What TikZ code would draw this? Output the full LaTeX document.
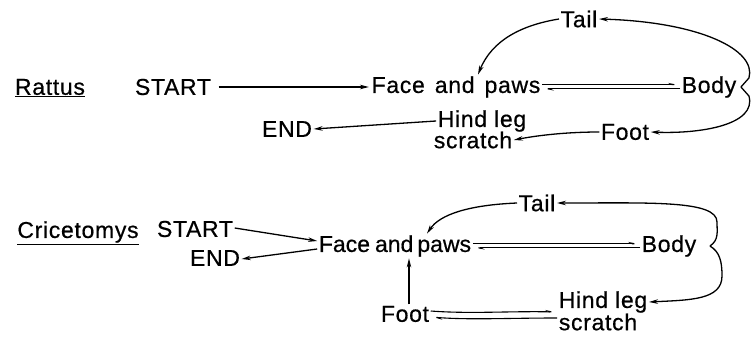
\documentclass[tikz,border=0pt]{standalone}
\usepackage{fontspec}
\setmainfont{Liberation Sans}[LetterSpace=3,FakeBold=0.6]
\newfontfamily\tightfont{Liberation Sans}[FakeBold=0.6]
\usetikzlibrary{arrows.meta,calc}

\begin{document}
\begin{tikzpicture}[x=1pt,y=-1pt,
  lbl/.style={inner sep=1.5pt, font=\fontsize{23}{25}\selectfont},
  conn/.style={line width=1.3pt, -{Stealth[length=9pt,width=4.5pt]}},
  half/.style={line width=1.1pt, -{Stealth[harpoon,length=9pt,width=3.5pt]}},
]
\useasboundingbox (0,0) rectangle (755,342);

% ---------------- Rattus ----------------
\node[lbl] (rat) at (50,88) {\underline{Rattus}};
\node[lbl] (s1)  at (173,87) {START};
\node[lbl] (f1)  at (456,87) {Face\hspace{10pt}and\hspace{10pt}paws};
\node[lbl] (b1)  at (709,87) {Body};
\node[lbl] (t1)  at (579,19) {Tail};
\node[lbl] (e1)  at (287,129) {END};
\node[lbl] (hl1) at (482,121) {Hind leg};
\node[lbl] (sc1) at (473,140) {scratch};
\node[lbl] (fo1) at (625,132) {Foot};
\coordinate (tip1) at ([xshift=3pt]b1.east);

\draw[conn] ([xshift=6pt]s1.east) -- ([xshift=-1pt]f1.west);
\draw[half] ([yshift=2.3pt]f1.east) -- ([yshift=2.3pt]b1.west);
\draw[half] ([yshift=-1.8pt]b1.west) -- ([yshift=-1.8pt]f1.east);
\draw[conn] (t1.west) .. controls (522,25) and (492,40) .. ([xshift=22pt]f1.north);
\draw[conn] (tip1) -- ++(8,-9) .. controls (757,50) and (700,22) .. (t1.east);
\draw[conn] (tip1) -- ++(8,9) .. controls (757,125) and (700,134) .. (fo1.east);
\draw[conn] (fo1.west) .. controls (575,132) and (545,134) .. (sc1.east);
\draw[conn] (hl1.west) -- (e1.east);

% ---------------- Cricetomys ----------------
\node[lbl] (cri) at (78,233) {\underline{Cricetomys}};
\node[lbl] (s2)  at (195,229) {START};
\node[lbl] (e2)  at (215,258) {END};
\node[lbl,font=\fontsize{23}{25}\tightfont] (f2) at (395,246) {Face\hspace{5pt}and\hspace{4pt}paws};
\node[lbl] (b2)  at (669,246) {Body};
\node[lbl] (t2)  at (537,203) {Tail};
\node[lbl] (fo2) at (405,314) {Foot};
\node[lbl] (hl2) at (603,302) {Hind leg};
\node[lbl] (sc2) at (598,322) {scratch};
\coordinate (tip2) at ([xshift=12pt]b2.east);

\draw[conn] ([yshift=1pt]s2.east) -- ([yshift=5pt]f2.west);
\draw[conn] ([yshift=-3pt]f2.west) -- ([yshift=-1pt]e2.east);
\draw[half] ([yshift=2.3pt]f2.east) -- ([yshift=2.3pt]b2.west);
\draw[half] ([yshift=-1.8pt]b2.west) -- ([yshift=-1.8pt]f2.east);
\draw[conn] (t2.west) .. controls (470,205) and (440,214) .. ([xshift=32pt]f2.north);
\draw[conn] ([xshift=4pt]fo2.north) -- ([xshift=4pt]fo2.north |- f2.south);
\draw[conn] (tip2) .. controls (719,240) and (717,232) .. (717,222)
  .. controls (717,200) and (650,203) .. (t2.east);
\draw[conn] (tip2) .. controls (720,252) and (722,262) .. (722,276)
  .. controls (722,300) and (690,300) .. (hl2.east);
\draw[half] ([yshift=3pt]fo2.east) .. controls (470,314) and (510,311) .. ([yshift=2pt]hl2.west |- fo2.east);
\draw[half] ([yshift=-4pt]hl2.west |- fo2.east) .. controls (510,318) and (470,320) .. ([yshift=-3pt]fo2.east);
\end{tikzpicture}
\end{document}
